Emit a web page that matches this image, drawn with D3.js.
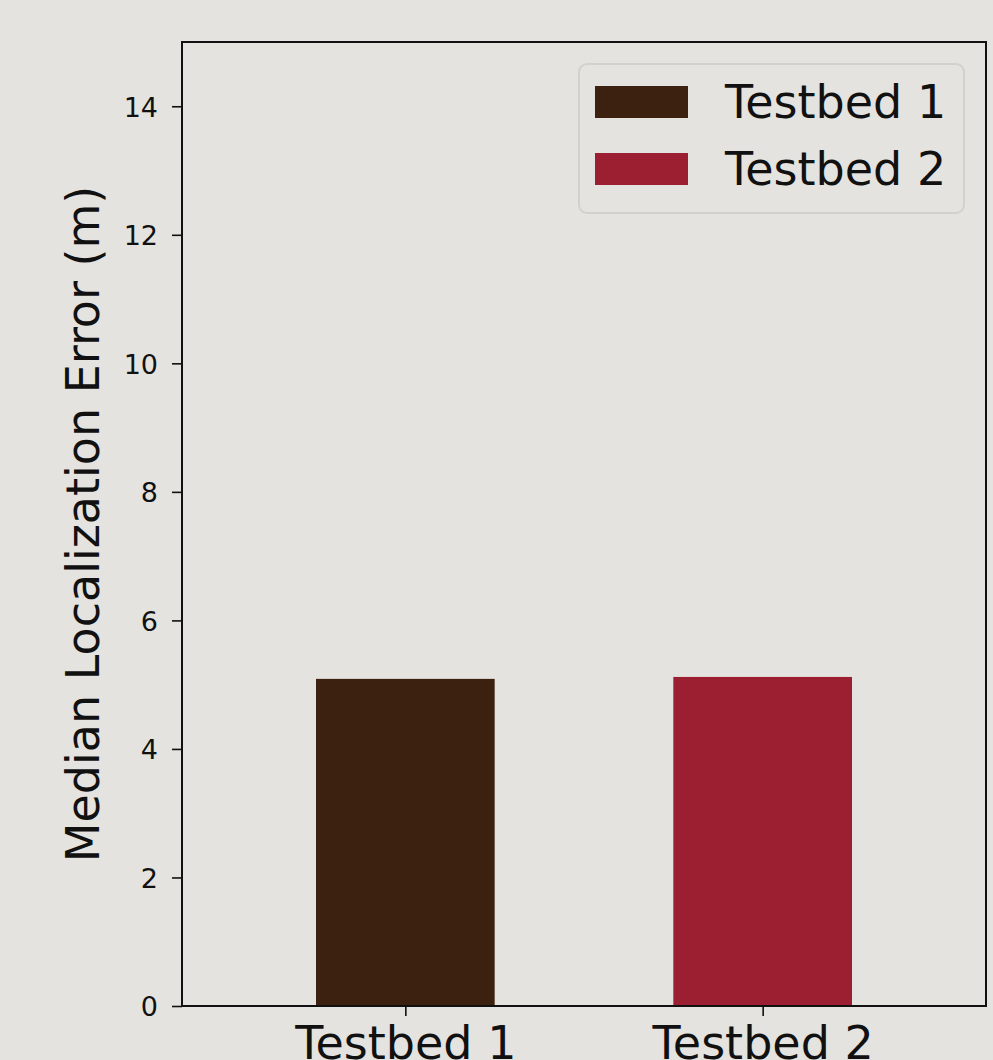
<!DOCTYPE html>
<html>
<head>
<meta charset="utf-8">
<script src="https://cdn.jsdelivr.net/npm/d3@7"></script>
<style>
  html, body { margin: 0; padding: 0; background: #e4e3df; }
  svg { display: block; }
  text { font-family: "DejaVu Sans", sans-serif; fill: #111; }
</style>
</head>
<body>
<svg id="chart" width="993" height="1060"></svg>
<script>
const categories = ["Testbed 1", "Testbed 2"];
const values = [5.09, 5.12];
const colors = ["#3c2111", "#9b1f30"];
const yTicks = [0, 2, 4, 6, 8, 10, 12, 14];
const yLabel = "Median Localization Error (m)";

const W = 993, H = 1060;
const mLeft = 182, mRight = 986, mTop = 42, mBottom = 1006;

const svg = d3.select("#chart");
svg.append("rect").attr("width", W).attr("height", H).attr("fill", "#e4e3df");

const x = d3.scaleLinear().domain([-0.625, 1.625]).range([mLeft, mRight]);
const y = d3.scaleLinear().domain([0, 15]).range([mBottom, mTop]);
const barW = 0.5;

// bars
svg.append("g").selectAll("rect").data(values).join("rect")
  .attr("x", (d, i) => x(i - barW / 2))
  .attr("width", (d, i) => x(i + barW / 2) - x(i - barW / 2))
  .attr("y", d => y(d))
  .attr("height", d => y(0) - y(d))
  .attr("fill", (d, i) => colors[i]);

// y axis
const yAxis = d3.axisLeft(y).tickValues(yTicks).tickSize(10).tickPadding(14).tickFormat(d3.format("d"));
const gy = svg.append("g").attr("transform", `translate(${mLeft},0)`).call(yAxis);
gy.select(".domain").remove();
gy.selectAll(".tick line").attr("stroke", "#111").attr("stroke-width", 1.6);
gy.selectAll(".tick text").style("font-size", "27px").attr("fill", "#111").attr("dy", "0.36em");

// x axis
const xAxis = d3.axisBottom(x).tickValues([0, 1]).tickSize(10).tickPadding(8)
  .tickFormat((d) => categories[d]);
const gx = svg.append("g").attr("transform", `translate(0,${mBottom})`).call(xAxis);
gx.select(".domain").remove();
gx.selectAll(".tick line").attr("stroke", "#111").attr("stroke-width", 1.6);
gx.selectAll(".tick text").style("font-size", "46px").attr("fill", "#111").attr("dy", "0.76em");

// frame
svg.append("rect")
  .attr("x", mLeft).attr("y", mTop)
  .attr("width", mRight - mLeft).attr("height", mBottom - mTop)
  .attr("fill", "none").attr("stroke", "#111").attr("stroke-width", 2);

// y label
svg.append("text")
  .attr("transform", `translate(99,${(mTop + mBottom) / 2}) rotate(-90)`)
  .attr("text-anchor", "middle")
  .style("font-size", "46px")
  .text(yLabel);

// legend
const lg = svg.append("g");
lg.append("rect")
  .attr("x", 579).attr("y", 64).attr("width", 385).attr("height", 149)
  .attr("rx", 8).attr("ry", 8)
  .attr("fill", "#e4e3df").attr("stroke", "#d2d1cd").attr("stroke-width", 2);
const items = lg.selectAll("g.item").data(categories).join("g").attr("class", "item")
  .attr("transform", (d, i) => `translate(0,${i * 67})`);
items.append("rect")
  .attr("x", 595).attr("y", 86).attr("width", 93).attr("height", 32)
  .attr("fill", (d, i) => colors[i]);
items.append("text")
  .attr("x", 725).attr("y", 118)
  .style("font-size", "46px")
  .text(d => d);
</script>
</body>
</html>
